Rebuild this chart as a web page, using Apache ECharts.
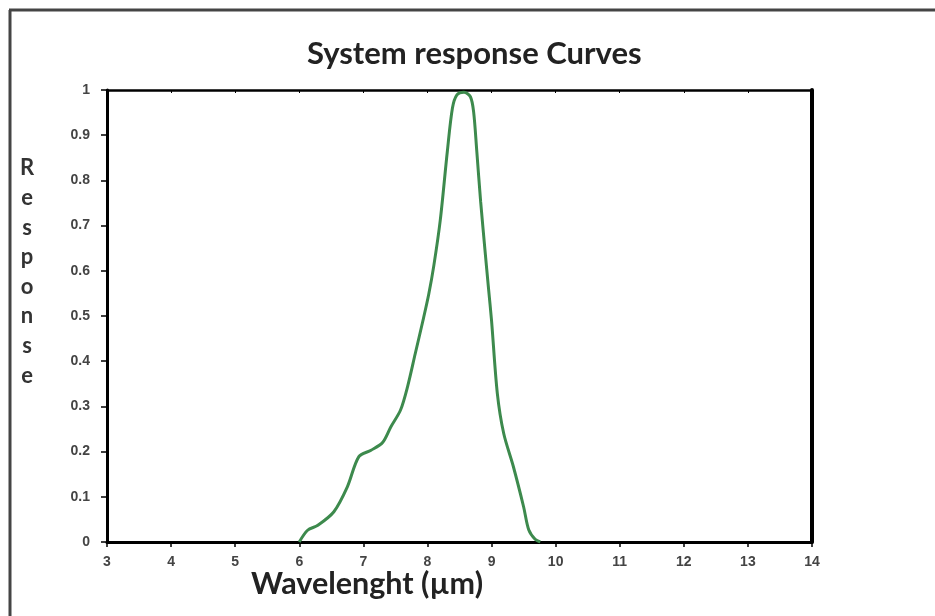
<!DOCTYPE html>
<html>
<head>
<meta charset="utf-8" />
<title>System response Curves</title>
<script src="https://cdn.jsdelivr.net/npm/echarts@6/dist/echarts.min.js"></script>
<style>
	html,body{ margin:0; padding:0; background:#fff;}
	#main{ width:935px; height:616px;}
</style>
</head>
<body>
<div id="main"></div>
<script>
// wavelength (µm) and response
var wavelength = [6.00, 6.13, 6.29, 6.54, 6.75, 6.93, 7.12, 7.30, 7.43, 7.58, 7.69, 7.81, 7.93, 8.02, 8.10, 8.20, 8.31, 8.39, 8.46, 8.57, 8.67, 8.72, 8.77, 8.83, 8.90, 8.95, 9.00, 9.09, 9.19, 9.34, 9.50, 9.58, 9.68, 9.76];
var response = [0.000, 0.026, 0.037, 0.067, 0.122, 0.189, 0.203, 0.220, 0.255, 0.292, 0.344, 0.417, 0.490, 0.548, 0.612, 0.712, 0.864, 0.960, 0.989, 0.995, 0.985, 0.952, 0.864, 0.753, 0.642, 0.565, 0.490, 0.329, 0.240, 0.167, 0.078, 0.027, 0.006, 0.000];

var titleText = 'System response Curves';
var xName = 'Wavelenght (µm)';
var yName = 'Response';

var points = [];
for(var i=0;i<wavelength.length;i++){
	points.push([wavelength[i], response[i]]);
}

var chart = echarts.init(document.getElementById('main'));
var lbl = { fontSize:14, fontWeight:'bold', color:'#444', fontFamily:'Liberation Sans' };

chart.setOption({
	animation:false,
	title:{
		text:titleText,
		left:302, top:33,
		textStyle:{ fontFamily:'Lato', fontWeight:'bold', fontSize:31, color:'#222' }
	},
	grid:{ left:107, right:123, top:90, bottom:74 },
	xAxis:[
		{
			type:'value', min:3, max:14, interval:1, position:'bottom',
			axisLine:{ onZero:false, lineStyle:{ color:'#000', width:3 } },
			axisTick:{ length:5, lineStyle:{ color:'#000', width:1.5 } },
			axisLabel:Object.assign({ margin:13 }, lbl),
			splitLine:{ show:false }
		},
		{
			type:'value', min:3, max:14, interval:1, position:'top',
			axisLine:{ show:true, onZero:false, lineStyle:{ color:'#000', width:2.5 } },
			axisTick:{ show:true, inside:true, length:3, lineStyle:{ color:'#000', width:1 } },
			axisLabel:{ show:false },
			splitLine:{ show:false }
		}
	],
	yAxis:[
		{
			type:'value', min:0, max:1, interval:0.1, position:'left',
			axisLine:{ show:true, onZero:false, lineStyle:{ color:'#000', width:3 } },
			axisTick:{ show:true, length:6, lineStyle:{ color:'#000', width:1.5 } },
			axisLabel:Object.assign({ margin:17 }, lbl),
			splitLine:{ show:false }
		},
		{
			type:'value', min:0, max:1, interval:0.1, position:'right',
			axisLine:{ show:true, onZero:false, lineStyle:{ color:'#000', width:4 } },
			axisTick:{ show:false },
			axisLabel:{ show:false },
			splitLine:{ show:false }
		}
	],
	series:[
		{
			type:'line',
			data:points,
			smooth:0.3,
			showSymbol:false,
			lineStyle:{ color:'#3d8a4d', width:3 }
		}
	],
	graphic:[
		// outer frame (top and left edges)
		{ type:'line', shape:{ x1:9, y1:10, x2:935, y2:10 }, style:{ stroke:'#444', lineWidth:3 } },
		{ type:'line', shape:{ x1:10, y1:10, x2:10, y2:616 }, style:{ stroke:'#444', lineWidth:3 } },
		{
			type:'text', left:251, top:569,
			style:{ text:xName, font:'bold 30.5px Lato', fill:'#222' }
		},
		{
			type:'text', x:27, y:272,
			style:{
				text:yName.split('').join('\n'),
				font:'bold 22px Lato', fill:'#333',
				lineHeight:29.6, align:'center', verticalAlign:'middle'
			}
		}
	]
});
</script>
</body>
</html>
